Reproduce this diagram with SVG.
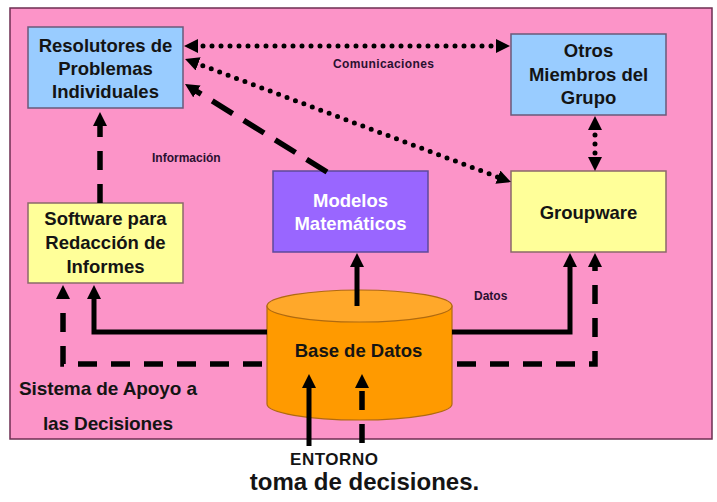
<svg xmlns="http://www.w3.org/2000/svg" width="717" height="502" viewBox="0 0 717 502">
<defs>
<style>
.bg{fill:#FC94C8;stroke:#6E2E52;stroke-width:1.5}
.blue{fill:#99CCFF;stroke:#6A5A7A;stroke-width:1.5}
.yellow{fill:#FFFF99;stroke:#8A6A6A;stroke-width:1.5}
.purple{fill:#9966FF;stroke:#5E4A9A;stroke-width:1.5}
.t{font-family:"Liberation Sans",Arial,sans-serif;font-weight:bold;font-size:18.5px;fill:#141414;text-anchor:middle}
.tw{fill:#FFFFFF}
.lbl{font-family:"Liberation Sans",Arial,sans-serif;font-weight:bold;font-size:12px;fill:#2A1030}
.big{font-family:"Liberation Sans",Arial,sans-serif;font-weight:bold;fill:#141414}
.solid{fill:none;stroke:#000;stroke-width:5}
.dash{fill:none;stroke:#000;stroke-width:5.5;stroke-dasharray:19 14}
.dashl{fill:none;stroke:#000;stroke-width:5.5;stroke-dasharray:24 13}
.dot{fill:none;stroke:#000;stroke-width:5;stroke-linecap:round;stroke-dasharray:0 9}
</style>
<marker id="ah" viewBox="0 0 14 14" refX="4" refY="7" markerWidth="14" markerHeight="14" markerUnits="userSpaceOnUse" orient="auto-start-reverse">
<path d="M0,0 L14,7 L0,14 z" fill="#000"/>
</marker>
</defs>

<rect class="bg" x="10" y="8" width="702" height="431"/>

<g id="resolutores">
<rect class="blue" x="28" y="27" width="155" height="81"/>
<text class="t" x="105.5" y="52">Resolutores de</text>
<text class="t" x="105.5" y="75">Problemas</text>
<text class="t" x="105.5" y="98">Individuales</text>
</g>

<g id="otros">
<rect class="blue" x="511" y="34" width="155" height="81"/>
<text class="t" x="588.5" y="57">Otros</text>
<text class="t" x="588.5" y="81">Miembros del</text>
<text class="t" x="588.5" y="104">Grupo</text>
</g>

<g id="groupware">
<rect class="yellow" x="511" y="171" width="155" height="81"/>
<text class="t" x="588.5" y="219">Groupware</text>
</g>

<g id="modelos">
<rect class="purple" x="273" y="171" width="155" height="81"/>
<text class="t tw" x="350.5" y="207">Modelos</text>
<text class="t tw" x="350.5" y="230">Matemáticos</text>
</g>

<g id="software">
<rect class="yellow" x="28" y="203" width="155" height="80"/>
<text class="t" x="105.5" y="225">Software para</text>
<text class="t" x="105.5" y="249">Redacción de</text>
<text class="t" x="105.5" y="273">Informes</text>
</g>

<g id="basedatos">
<path d="M267,306 V404 A92.5,16 0 0 0 452,404 V306 Z" fill="#FF9A00" stroke="#B06A10" stroke-width="1.2"/>
<ellipse cx="359.5" cy="306" rx="92.5" ry="16" fill="#FFA82A" stroke="#B06A10" stroke-width="1.2"/>
<text class="t" x="358.5" y="357">Base de Datos</text>
</g>

<g id="connectors">
<line class="dot" x1="194" y1="46" x2="500" y2="46" marker-start="url(#ah)" marker-end="url(#ah)"/>
<line class="dot" x1="194.4" y1="62.5" x2="501.6" y2="178.5" marker-start="url(#ah)" marker-end="url(#ah)"/>
<line class="dot" x1="595" y1="126" x2="595" y2="161" marker-start="url(#ah)" marker-end="url(#ah)"/>
<line class="dashl" x1="327" y1="172" x2="193.5" y2="89.3" marker-end="url(#ah)"/>
<line class="dash" x1="100" y1="203" x2="100" y2="122" marker-end="url(#ah)"/>
<path class="solid" d="M267,332 H94 V295" marker-end="url(#ah)"/>
<path class="dash" d="M262,364 H63 V295" marker-end="url(#ah)"/>
<path class="solid" d="M452,332 H570 V263" marker-end="url(#ah)"/>
<path class="dash" d="M457,364 H595 V263" marker-end="url(#ah)"/>
<line class="solid" x1="357" y1="306" x2="357" y2="263" marker-end="url(#ah)"/>
<line class="solid" x1="309" y1="446" x2="309" y2="384" marker-end="url(#ah)"/>
<line class="dash" x1="362" y1="443" x2="362" y2="384" marker-end="url(#ah)"/>
</g>

<text class="lbl" x="333" y="68" textLength="101">Comunicaciones</text>
<text class="lbl" x="152" y="162">Información</text>
<text class="lbl" x="474" y="300">Datos</text>
<text class="big" x="19" y="395" font-size="19" textLength="178">Sistema de Apoyo a</text>
<text class="big" x="43" y="430" font-size="19" textLength="130">las Decisiones</text>
<text class="big" x="290" y="465" font-size="17" textLength="88">ENTORNO</text>
<text class="big" x="364.5" y="490" font-size="24" text-anchor="middle">toma de decisiones.</text>
</svg>
